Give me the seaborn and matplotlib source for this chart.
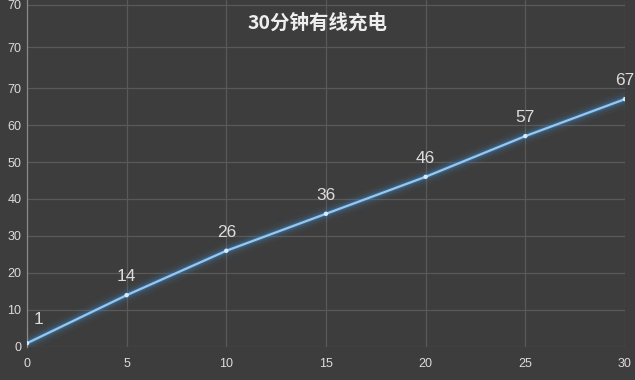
import numpy as np
import pandas as pd
import matplotlib
matplotlib.use('Agg')
import matplotlib.pyplot as plt
import seaborn as sns

# 데이터
minutes = [0, 5, 10, 15, 20, 25, 30]
charge = [1, 14, 26, 36, 46, 57, 67]
y_ticks = [0, 10, 20, 30, 40, 50, 60, 70, 81, 92.5]
y_labels = ['0', '10', '20', '30', '40', '50', '60', '70', '70', '70']
x_ticks = [0, 5, 10, 15, 20, 25, 30]
title = '30分钟有线充电'

bg = '#3d3d3d'
grid_c = '#595959'
text_c = '#dcdcdc'
line_c = '#94c8f2'

sns.set_theme(style='dark')
plt.rcParams['font.family'] = ['Noto Sans CJK SC', 'DejaVu Sans']

df = pd.DataFrame({'min': minutes, 'pct': charge})

fig = plt.figure(figsize=(6.35, 3.8), dpi=100, facecolor=bg)
ax = fig.add_axes([0.0425, 0.087, 0.9417, 0.913])
ax.set_facecolor(bg)

# glow
for lw, a in [(12, 0.05), (8, 0.09), (5, 0.16), (3, 0.25)]:
    sns.lineplot(data=df, x='min', y='pct', ax=ax, color='#3f8fd8', linewidth=lw, alpha=a)
sns.lineplot(data=df, x='min', y='pct', ax=ax, color=line_c, linewidth=1.6)
sns.scatterplot(data=df, x='min', y='pct', ax=ax, color='#d5ecff', s=10, edgecolor='none', zorder=5)

for xv, yv in zip(minutes, charge):
    off = (8, 12) if xv == 0 else (0, 8)
    ax.annotate(str(yv), (xv, yv), xytext=off, textcoords='offset points',
                ha='center', va='bottom', color=text_c, fontsize=12.5,
                family=['Liberation Sans', 'DejaVu Sans'])

ax.set_xlim(0, 30)
ax.set_ylim(0, 93.8)
ax.set_xticks(x_ticks)
ax.set_yticks(y_ticks)
ax.set_yticklabels(y_labels)
ax.tick_params(axis='y', colors=text_c, labelsize=9, length=0, pad=4)
ax.tick_params(axis='x', colors=text_c, labelsize=9, length=0, pad=8)
for lab in ax.get_xticklabels() + ax.get_yticklabels():
    lab.set_family(['Liberation Sans', 'DejaVu Sans'])
ax.grid(True, color=grid_c, linewidth=0.9)
ax.set_xlabel('')
ax.set_ylabel('')
for s in ['top', 'right', 'bottom']:
    ax.spines[s].set_visible(False)
ax.spines['left'].set_color('#8a8a8a')
ax.spines['left'].set_linewidth(0.9)

fig.text(0.5, 0.94, title, ha='center', va='center', color='#eeeeee',
         fontsize=14, fontweight='semibold')

fig.savefig('out.png', dpi=100, facecolor=bg)
